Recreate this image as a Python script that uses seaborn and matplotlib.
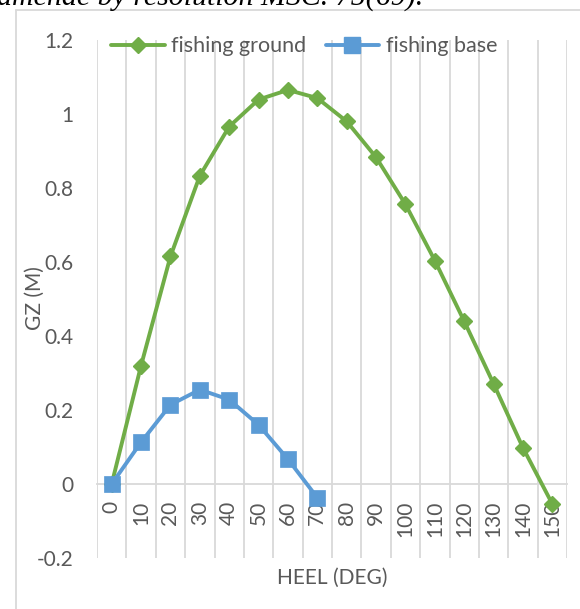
import numpy as np
import pandas as pd
import matplotlib
matplotlib.use("Agg")
import matplotlib.pyplot as plt
from matplotlib.lines import Line2D
import seaborn as sns

# GZ righting-lever curves, heel angle in degrees
heel_ground = [0, 10, 20, 30, 40, 50, 60, 70, 80, 90, 100, 110, 120, 130, 140, 150]
gz_ground = [0.0, 0.320, 0.615, 0.833, 0.966, 1.039, 1.065, 1.043, 0.980, 0.883,
             0.756, 0.604, 0.440, 0.271, 0.098, -0.054]
heel_base = [0, 10, 20, 30, 40, 50, 60, 70]
gz_base = [0.0, 0.113, 0.214, 0.255, 0.228, 0.160, 0.067, -0.037]

series_names = ["fishing ground", "fishing base"]
tick_labels = [str(h) for h in heel_ground]
y_ticks = [-0.2, 0, 0.2, 0.4, 0.6, 0.8, 1, 1.2]
y_tick_labels = ["-0.2", "0", "0.2", "0.4", "0.6", "0.8", "1", "1.2"]

GREEN = "#70AD47"
BLUE = "#5B9BD5"
TEXT = "#595959"
GRID = "#D9D9D9"

df_ground = pd.DataFrame({"heel": heel_ground, "gz": gz_ground, "series": series_names[0]})
df_base = pd.DataFrame({"heel": heel_base, "gz": gz_base, "series": series_names[1]})

sns.set_theme(style="white")
plt.rcParams["font.family"] = ["Lato", "DejaVu Sans"]

W, H = 580, 609
fig = plt.figure(figsize=(W / 100, H / 100), dpi=100)
ax = fig.add_axes([97 / W, 1 - 558 / H, 470 / W, 518 / H])

sns.lineplot(data=df_ground, x="heel", y="gz", ax=ax, color=GREEN, linewidth=2.8,
             marker="D", markersize=8.5, markeredgecolor=GREEN, markeredgewidth=1,
             legend=False, zorder=3)
sns.lineplot(data=df_base, x="heel", y="gz", ax=ax, color=BLUE, linewidth=2.8,
             marker="s", markersize=11, markeredgecolor=BLUE, markeredgewidth=0.5,
             legend=False, zorder=4)

ax.set_xlim(-5, 155)
ax.set_ylim(-0.2, 1.2)

# the category axis crosses at zero (set before styling the ticks, since it resets them)
for side in ["top", "right", "left"]:
    ax.spines[side].set_visible(False)
ax.spines["bottom"].set_position(("data", 0))
ax.spines["bottom"].set_color(GRID)
ax.spines["bottom"].set_linewidth(1.3)
ax.spines["bottom"].set_zorder(2)

# category labels sit on the zero line; vertical gridlines fall between categories
ax.set_xticks(heel_ground)
ax.set_xticklabels(tick_labels, rotation=90, color=TEXT, fontsize=15,
                   va="top", ha="center")
ax.set_xticks(np.arange(-5, 156, 10), minor=True)
ax.grid(False)
ax.grid(which="minor", axis="x", color=GRID, linewidth=1.3)
ax.set_yticks(y_ticks)
ax.set_yticklabels(y_tick_labels, color=TEXT, fontsize=15)
ax.tick_params(axis="x", which="both", length=0, pad=12)
ax.tick_params(axis="y", which="both", length=0, pad=17)

ax.set_xlabel("HEEL (DEG)", color=TEXT, fontsize=15)
ax.xaxis.set_label_coords(0.5, -0.0386)
ax.xaxis.label.set_va("center")
ax.set_ylabel("GZ (M)", color=TEXT, fontsize=15)
ax.yaxis.set_label_coords(-0.132, 0.502)
ax.yaxis.label.set_va("center")

handles = [
    Line2D([], [], color=GREEN, linewidth=2.8, marker="D", markersize=8.5,
           markeredgecolor=GREEN),
    Line2D([], [], color=BLUE, linewidth=2.8, marker="s", markersize=11,
           markeredgecolor=BLUE),
]
fig.legend(handles, series_names, loc="center", bbox_to_anchor=(304 / W, 1 - 46.5 / H),
           ncol=2, frameon=False, fontsize=15.5, handlelength=2.5, handletextpad=0.3,
           columnspacing=0.9, labelcolor=TEXT)

# outer chart frame
fig.add_artist(Line2D([16 / W, 16 / W], [1 - 10 / H, 0], transform=fig.transFigure,
                      color=GRID, linewidth=1.3))
fig.add_artist(Line2D([16 / W, 1], [1 - 10 / H, 1 - 10 / H], transform=fig.transFigure,
                      color=GRID, linewidth=1.3))

# caption line running above the chart
fig.text(423 / W, 1 - 4.5 / H, "amende by resolution MSC. 75(69).", ha="right",
         va="baseline", fontsize=21.5, fontstyle="italic", family="Liberation Serif",
         color="black")

fig.savefig("out.png", dpi=100, facecolor="white")
